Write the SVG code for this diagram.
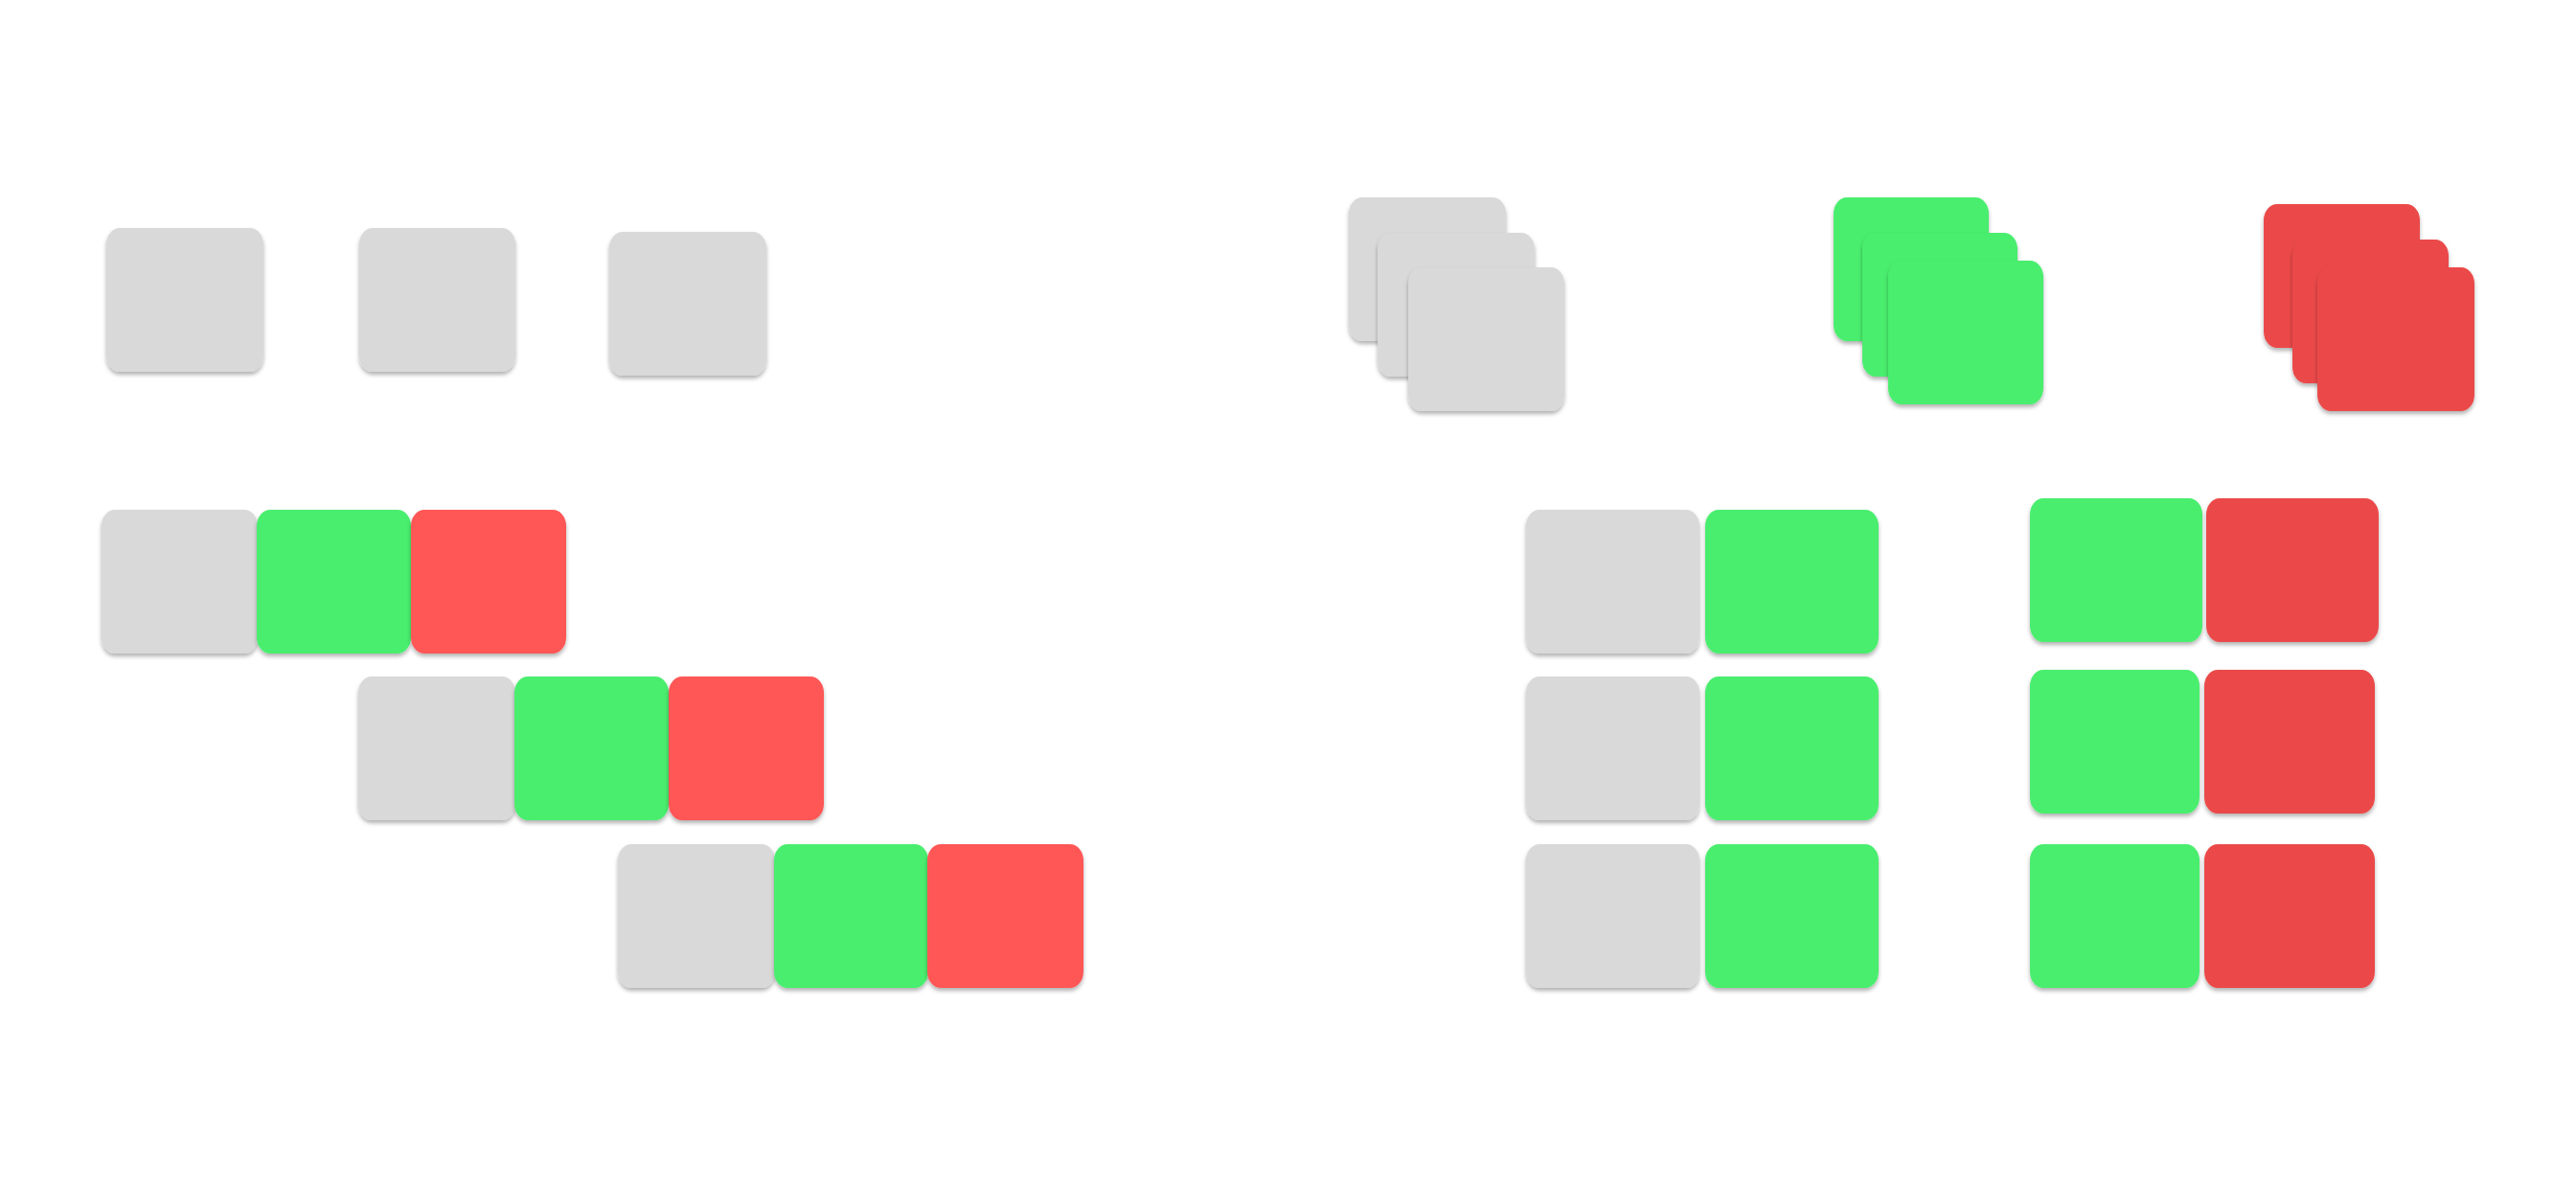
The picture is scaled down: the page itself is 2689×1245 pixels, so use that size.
<svg xmlns="http://www.w3.org/2000/svg" width="2689" height="1245" viewBox="0 0 2689 1245">
  <defs>
    <filter id="sh" x="-10%" y="-10%" width="120%" height="125%">
      <feDropShadow dx="0" dy="3" stdDeviation="2" flood-color="#000" flood-opacity="0.3"/>
    </filter>
  </defs>
  <style>
    rect { rx: 14px; ry: 17px; filter: url(#sh); }
    .g { fill: #D9D9D9; }
    .gr { fill: #4AEE6E; }
    .r { fill: #FF5757; }
    .r2 { fill: #EB4A4A; }
  </style>
  <rect width="2689" height="1245" fill="#FFFFFF" style="filter:none;rx:0;ry:0"/>
  <g id="top-left">
    <rect class="g" x="111" y="238" width="164" height="150"/>
    <rect class="g" x="375" y="238" width="163" height="150"/>
    <rect class="g" x="636" y="242" width="164" height="150"/>
  </g>
  <g id="left-row1">
    <rect class="g" x="106" y="532" width="163" height="150"/>
    <rect class="gr" x="268" y="532" width="161" height="150"/>
    <rect class="r" x="429" y="532" width="162" height="150"/>
  </g>
  <g id="left-row2">
    <rect class="g" x="374" y="706" width="164" height="150"/>
    <rect class="gr" x="537" y="706" width="161" height="150"/>
    <rect class="r" x="698" y="706" width="162" height="150"/>
  </g>
  <g id="left-row3">
    <rect class="g" x="645" y="881" width="164" height="150"/>
    <rect class="gr" x="808" y="881" width="161" height="150"/>
    <rect class="r" x="968" y="881" width="163" height="150"/>
  </g>
  <g id="stack-gray">
    <rect class="g" x="1408" y="206" width="164" height="150"/>
    <rect class="g" x="1438" y="243" width="164" height="150"/>
    <rect class="g" x="1470" y="279" width="163" height="150"/>
  </g>
  <g id="stack-green">
    <rect class="gr" x="1914" y="206" width="162" height="150"/>
    <rect class="gr" x="1944" y="243" width="162" height="150"/>
    <rect class="gr" x="1971" y="272" width="162" height="150"/>
  </g>
  <g id="stack-red">
    <rect class="r2" x="2363" y="213" width="163" height="150"/>
    <rect class="r2" x="2393" y="250" width="163" height="150"/>
    <rect class="r2" x="2419" y="279" width="164" height="150"/>
  </g>
  <g id="grid-left">
    <rect class="g" x="1593" y="532" width="181" height="150"/>
    <rect class="gr" x="1780" y="532" width="181" height="150"/>
    <rect class="g" x="1593" y="706" width="181" height="150"/>
    <rect class="gr" x="1780" y="706" width="181" height="150"/>
    <rect class="g" x="1593" y="881" width="181" height="150"/>
    <rect class="gr" x="1780" y="881" width="181" height="150"/>
  </g>
  <g id="grid-right">
    <rect class="gr" x="2119" y="520" width="180" height="150"/>
    <rect class="r2" x="2303" y="520" width="180" height="150"/>
    <rect class="gr" x="2119" y="699" width="177" height="150"/>
    <rect class="r2" x="2301" y="699" width="178" height="150"/>
    <rect class="gr" x="2119" y="881" width="177" height="150"/>
    <rect class="r2" x="2301" y="881" width="178" height="150"/>
  </g>
  <g id="connectors"/>
</svg>
